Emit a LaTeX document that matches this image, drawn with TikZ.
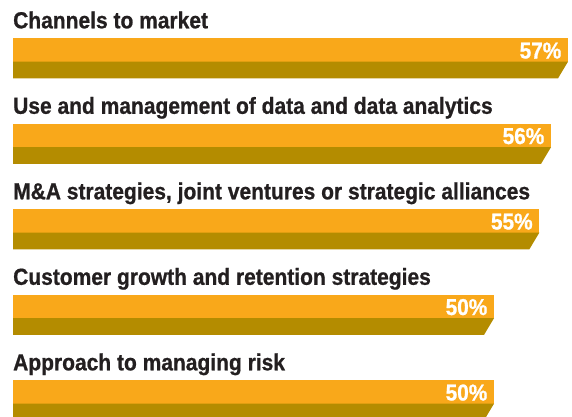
\documentclass[tikz,border=0pt]{standalone}
\usepackage{fontspec}
\setmainfont{Liberation Sans}[FakeStretch=0.905, BoldFeatures={FakeBold=0.8}]
\definecolor{barorange}{HTML}{F9A81A}
\definecolor{barolive}{HTML}{B48C00}
\definecolor{labeltext}{HTML}{231F20}
\tikzset{
  barlabel/.style={anchor=base west, inner sep=0pt, text=labeltext, font=\bfseries\fontsize{23.2}{23}\selectfont},
  pctlabel/.style={anchor=base east, inner sep=0pt, text=white, font=\bfseries\fontsize{23}{23}\selectfont},
  topface/.style={fill=barorange},
  bottomface/.style={fill=barolive}
}
\begin{document}
\begin{tikzpicture}[x=1pt,y=-1pt]
\useasboundingbox (0,0) rectangle (572,416);
\foreach \i/\top/\right/\lab/\pct in {
  1/38/568/{Channels to market}/57\%,
  2/123.5/551/{Use and management of data and data analytics}/56\%,
  3/209/539.3/{M\&A strategies, joint ventures or strategic alliances}/55\%,
  4/294.5/494/{Customer growth and retention strategies}/50\%,
  5/380/494/{Approach to managing risk}/50\%}
{
  \fill[topface] (13,\top) rectangle (\right,\top+23.7);
  \fill[bottomface] (13,\top+23.7) -- (\right,\top+23.7) -- (\right-10,\top+40.4) -- (13,\top+40.4) -- cycle;
  \node[barlabel] (label\i) at (13,\top-9.7) {\lab};
  \node[pctlabel] (pct\i) at (\right-6.5,\top+20.5) {\pct};
}
\end{tikzpicture}
\end{document}
